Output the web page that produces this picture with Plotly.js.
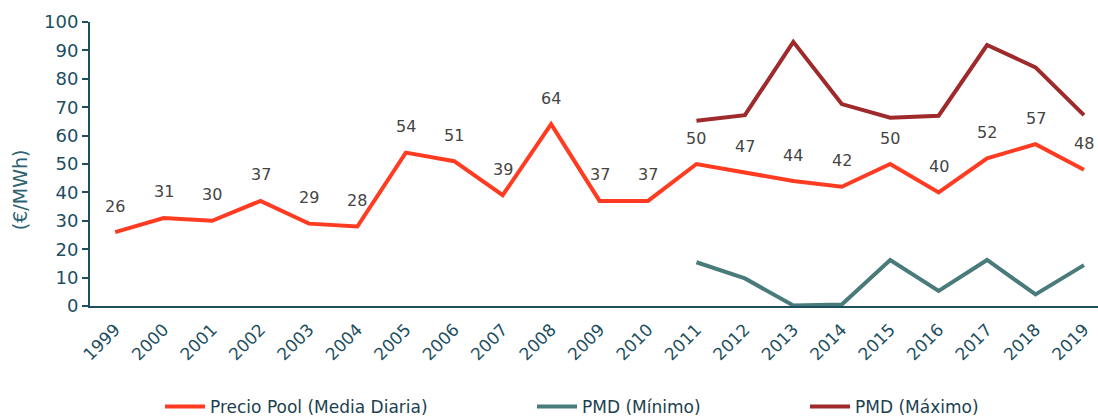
<!DOCTYPE html>
<html>
<head>
<meta charset="utf-8">
<script src="https://cdn.plot.ly/plotly-3.0.1.min.js"></script>
<style>html,body{margin:0;padding:0;background:#fff}#chart{width:1098px;height:416px}</style>
</head>
<body>
<div id="chart"></div>
<script>
const years = [1999,2000,2001,2002,2003,2004,2005,2006,2007,2008,2009,2010,2011,2012,2013,2014,2015,2016,2017,2018,2019];
const yearLabels = years.map(String);
const poolValues = [26,31,30,37,29,28,54,51,39,64,37,37,50,47,44,42,50,40,52,57,48];
const pmdYears = [2011,2012,2013,2014,2015,2016,2017,2018,2019];
const pmdMin = [15.4,9.7,0.2,0.5,16.2,5.3,16.2,4.1,14.4];
const pmdMax = [65.2,67.2,93,71.1,66.3,67,91.9,84,67.2];
const seriesNames = ["Precio Pool (Media Diaria)","PMD (Mínimo)","PMD (Máximo)"];
const yTitle = "(€/MWh)";

const teal = "#1d4f5f";
const FONT = "DejaVu Sans, sans-serif";
const traces = [
  {x: years, y: poolValues, name: seriesNames[0], mode: "lines", line: {color: "#FF3B22", width: 4}, legend: "legend"},
  {x: pmdYears, y: pmdMin, name: seriesNames[1], mode: "lines", line: {color: "#4A7B7B", width: 4}, legend: "legend2"},
  {x: pmdYears, y: pmdMax, name: seriesNames[2], mode: "lines", line: {color: "#9E2A2B", width: 4}, legend: "legend3"}
];
const annotations = years.map((yr, i) => ({
  x: yr, y: poolValues[i], text: String(poolValues[i]), showarrow: false,
  yshift: 26, font: {family: FONT, size: 16, color: "#444"}
}));
annotations.push({
  xref: "paper", yref: "paper", x: -70/1008, y: 0.408, text: yTitle, textangle: -90,
  showarrow: false, xanchor: "center", yanchor: "middle",
  font: {family: FONT, size: 19, color: "#2c6271"}
});
const legFont = {family: FONT, size: 17, color: "#1d3f4f"};
const legBase = {orientation: "h", xref: "container", yref: "container", yanchor: "middle", font: legFont, bgcolor: "rgba(0,0,0,0)", itemwidth: 40};
const layout = {
  width: 1098, height: 416,
  margin: {l: 90, r: 0, t: 22, b: 110},
  paper_bgcolor: "#fff", plot_bgcolor: "#fff",
  font: {family: FONT},
  showlegend: true,
  xaxis: {
    type: "linear", range: [1998.48, 2019.29],
    tickvals: years, ticktext: yearLabels, tickangle: -45,
    tickfont: {size: 17, color: teal}, ticklabelstandoff: 5,
    showgrid: false, zeroline: false, showline: true, linecolor: teal, linewidth: 2, ticks: ""
  },
  yaxis: {
    range: [0, 100], dtick: 10, tick0: 0,
    tickfont: {size: 18, color: teal},
    showgrid: false, zeroline: false, showline: true, linecolor: teal, linewidth: 2,
    ticks: "outside", ticklen: 6, tickcolor: teal, tickwidth: 2
  },
  annotations: annotations,
  legend: Object.assign({}, legBase, {x: 160/1098, y: 1 - 407/416}),
  legend2: Object.assign({}, legBase, {x: 532/1098, y: 1 - 407/416}),
  legend3: Object.assign({}, legBase, {x: 805/1098, y: 1 - 407/416})
};
Plotly.newPlot("chart", traces, layout, {displayModeBar: false, staticPlot: true});
</script>
</body>
</html>
